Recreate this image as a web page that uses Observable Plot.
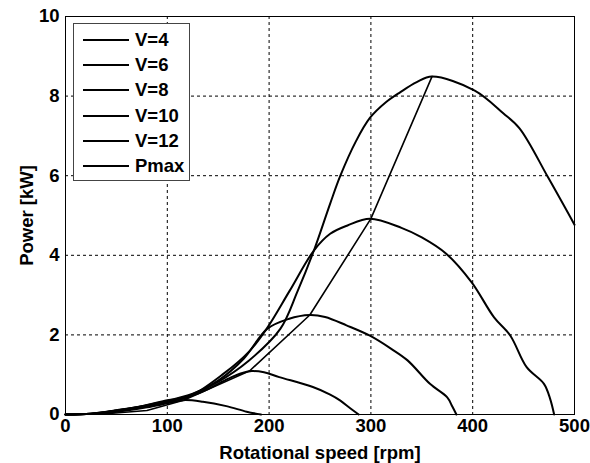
<!DOCTYPE html>
<html>
<head>
<meta charset="utf-8">
<script src="https://cdn.jsdelivr.net/npm/d3@7"></script>
<script src="https://cdn.jsdelivr.net/npm/@observablehq/plot@0.6"></script>
<style>
  body { margin: 0; background: #fff; }
  #wrap { position: relative; width: 590px; height: 463px; font-family: "Liberation Sans", Arial, sans-serif; }
  #legend { position: absolute; left: 73px; top: 23px; width: 117px; height: 158px; border: 1px solid #444; background: #fff; box-sizing: border-box; }
  .row { position: absolute; left: 0; height: 20px; display: flex; align-items: center; }
  .row .ln { width: 46px; height: 0; border-top: 2px solid #000; margin-left: 9px; margin-right: 6px; }
  .row .lb { font-size: 18.5px; font-weight: bold; color: #000; }
</style>
</head>
<body>
<div id="wrap"><div id="chart"></div><div id="legend"></div></div>
<script>
// ---- data ----
const seriesNames = ["V=4", "V=6", "V=8", "V=10", "V=12", "Pmax"];

const v4Rpm = [0, 20, 40, 60, 80, 100, 116, 135, 158, 178, 192];
const v4Kw  = [0, 0.01, 0.04, 0.1, 0.18, 0.28, 0.36, 0.32, 0.21, 0.07, 0];

const v6Rpm = [0, 25, 50, 75, 100, 125, 140, 160, 172, 183, 195, 210, 243, 260, 270, 280, 288];
const v6Kw  = [0, 0.02, 0.09, 0.19, 0.31, 0.48, 0.64, 0.9, 1.03, 1.09, 1.06, 0.94, 0.69, 0.5, 0.35, 0.15, 0];

const v8Rpm = [0, 25, 50, 75, 100, 125, 150, 175, 198, 219, 240, 255, 276, 299, 320, 336, 358, 375, 380, 384];
const v8Kw  = [0, 0.02, 0.1, 0.2, 0.33, 0.51, 0.85, 1.4, 2.15, 2.4, 2.5, 2.45, 2.24, 1.98, 1.65, 1.36, 0.77, 0.43, 0.2, 0];

const v10Rpm = [0, 25, 50, 75, 100, 119, 155, 181, 198, 220, 244, 260, 277, 299, 330, 350, 374, 399, 421, 437, 453, 470, 476, 480];
const v10Kw  = [0, 0.02, 0.11, 0.21, 0.36, 0.42, 1.02, 1.6, 2.17, 3.1, 4.12, 4.54, 4.75, 4.92, 4.69, 4.45, 4.04, 3.32, 2.44, 1.98, 1.19, 0.77, 0.4, 0];

const v12Rpm = [0, 25, 50, 75, 100, 125, 150, 180, 211, 228, 244, 260, 270, 285, 299, 315, 329, 345, 360, 402, 430, 446, 474, 500];
const v12Kw  = [0, 0.02, 0.1, 0.21, 0.34, 0.52, 0.82, 1.35, 2.15, 3.1, 4.12, 5.3, 6.0, 6.85, 7.45, 7.85, 8.1, 8.35, 8.49, 8.14, 7.57, 7.19, 5.96, 4.77];

const pmaxRpm = [0, 40, 80, 116, 181, 240, 300, 360];
const pmaxKw  = [0, 0.02, 0.1, 0.36, 1.1, 2.5, 4.92, 8.49];

const xTicks = [0, 100, 200, 300, 400, 500];
const yTicks = [0, 2, 4, 6, 8, 10];

// ---- build table ----
const pairs = [[v4Rpm, v4Kw], [v6Rpm, v6Kw], [v8Rpm, v8Kw], [v10Rpm, v10Kw], [v12Rpm, v12Kw]];
const rows = [];
pairs.forEach(([xs, ys], i) => xs.forEach((x, j) => rows.push({series: seriesNames[i], rpm: x, kw: ys[j]})));
const pmaxRows = pmaxRpm.map((x, j) => ({series: "Pmax", rpm: x, kw: pmaxKw[j]}));

const chart = Plot.plot({
  width: 590,
  height: 463,
  marginLeft: 65,
  marginRight: 16,
  marginTop: 16,
  marginBottom: 49,
  style: {fontFamily: "'Liberation Sans', Arial, sans-serif", fontSize: "18px", fontWeight: "bold", color: "#000", background: "#fff"},
  x: {domain: [0, 500]},
  y: {domain: [0, 10]},
  marks: [
    Plot.gridX(xTicks.slice(1, -1), {stroke: "#000", strokeOpacity: 1, strokeDasharray: "3,3", strokeWidth: 1}),
    Plot.gridY(yTicks.slice(1, -1), {stroke: "#000", strokeOpacity: 1, strokeDasharray: "3,3", strokeWidth: 1}),
    Plot.line(rows, {x: "rpm", y: "kw", z: "series", stroke: "#000", strokeWidth: 2, curve: "catmull-rom"}),
    Plot.line(pmaxRows, {x: "rpm", y: "kw", stroke: "#000", strokeWidth: 1.6, curve: "linear"}),
    Plot.frame({stroke: "#000", strokeWidth: 1}),
    Plot.axisX({ticks: xTicks, tickSize: 0, tickPadding: 4, fontSize: 18.5, label: "Rotational speed [rpm]", labelAnchor: "center", labelArrow: "none", labelOffset: 44}),
    Plot.axisY({ticks: yTicks, tickSize: 0, tickPadding: 6, fontSize: 18.5, label: "Power [kW]", labelAnchor: "center", labelArrow: "none", labelOffset: 46})
  ]
});
document.getElementById("chart").appendChild(chart);

// ---- legend ----
const legend = document.getElementById("legend");
seriesNames.forEach((name, i) => {
  const r = document.createElement("div");
  r.className = "row";
  r.style.top = (6 + i * 25.2) + "px";
  r.innerHTML = '<div class="ln"></div><div class="lb">' + name + '</div>';
  legend.appendChild(r);
});
</script>
</body>
</html>
